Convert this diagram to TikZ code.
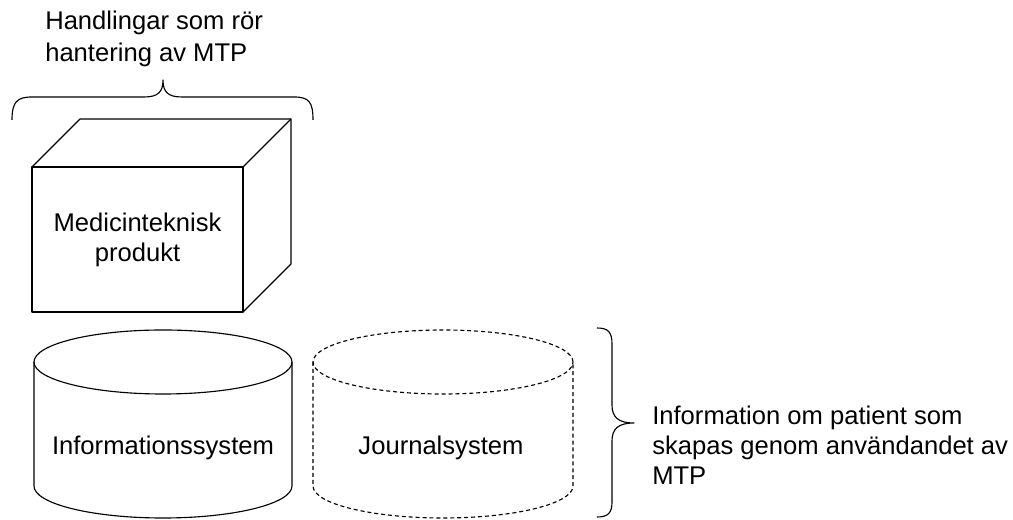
\documentclass[tikz,border=0pt]{standalone}
\usepackage{fontspec}
\setmainfont{Liberation Sans}
\usepackage{tikz}
\usetikzlibrary{calc}

\tikzset{
  outline/.style={draw=black, line width=0.85pt, line join=round},
  dashline/.style={outline, dash pattern=on 3pt off 2.2pt},
  txt/.style={font=\fontsize{19.2}{22.5}\selectfont, inner sep=0pt, align=left},
  face/.style={outline, inner sep=0pt, outer sep=0pt, align=center,
    font=\fontsize{19.2}{22.5}\selectfont, minimum width=158.25pt, minimum height=108.75pt},
}
% drum: centre x, half width
\newcommand{\drum}[3][outline]{%
  \draw[#1] (#2,158) ellipse[x radius=#3, y radius=32];
  \draw[#1] (#2-#3,158) -- (#2-#3,34) arc[start angle=180, end angle=360, x radius=#3, y radius=32] -- (#2+#3,158);
}

\begin{document}
\begin{tikzpicture}[x=0.75pt, y=0.75pt]
  \useasboundingbox (0,0) rectangle (1013,520);

  % product box
  \node[face] (prod) at (137.5,280.5) {Medicinteknisk\\produkt};
  \draw[outline] (prod.north west) -- ++(48,48) -- ++(211,0) coordinate (backtr) -- ++(0,-145) -- (prod.south east);
  \draw[outline] (prod.north east) -- (backtr);

  % brace over the box
  \coordinate (acttip) at (163,440);
  \draw[outline] (12,400) .. controls (12,418) and (17,423) .. (32,423) -- (144,423)
    .. controls (158,423) and (163,428) .. (acttip)
    .. controls (163,428) and (168,423) .. (182,423) -- (294,423)
    .. controls (309,423) and (313,418) .. (313,400);
  \node[txt, anchor=west, font=\fontsize{19.2}{23.5}\selectfont] (acts) at (45,481) {Handlingar som rör\\hantering av MTP};

  % the two systems
  \drum{163}{129}
  \drum[dashline]{443}{130}
  \node[txt] (info) at (163,72) {Informationssystem};
  \node[txt] (journal) at (441,72) {Journalsystem};

  % brace beside the systems
  \coordinate (pattip) at (634,97);
  \draw[outline] (597,192) .. controls (608,192) and (612,188) .. (612,176) -- (612,115)
    .. controls (612,103) and (618,97) .. (pattip)
    .. controls (618,97) and (612,91) .. (612,79) -- (612,18)
    .. controls (612,7) and (608,3) .. (597,3);
  \node[txt, anchor=west] (patinfo) at (652,75) {Information om patient som\\skapas genom användandet av\\MTP};
\end{tikzpicture}
\end{document}
